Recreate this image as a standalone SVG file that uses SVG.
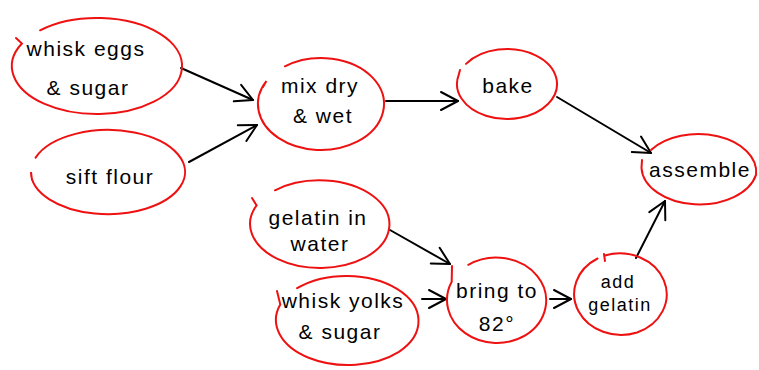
<svg xmlns="http://www.w3.org/2000/svg" width="759" height="370" viewBox="0 0 759 370">
<style>
.n{fill:none;stroke:#ee1111;stroke-width:2;stroke-linecap:round}
.t{font-family:"Liberation Sans","DejaVu Sans",sans-serif;font-size:21px;fill:#000;text-anchor:middle;letter-spacing:1.5px}
.s{font-size:18px}
.c{fill:none;stroke:#000;stroke-width:2;stroke-linecap:round}
</style>
<defs>
<marker id="ah" markerUnits="userSpaceOnUse" markerWidth="24" markerHeight="24" refX="20" refY="12" orient="auto" viewBox="0 0 24 24">
<path d="M3,3 L20,12 L3,21" fill="none" stroke="#000" stroke-width="2" stroke-linecap="round" stroke-linejoin="round"/>
</marker>
</defs>
<rect width="759" height="370" fill="#fff"/>
<g id="connectors">
<line class="c" x1="181" y1="68" x2="253" y2="100" marker-end="url(#ah)"/>
<line class="c" x1="189" y1="162" x2="257" y2="125" marker-end="url(#ah)"/>
<line class="c" x1="386" y1="101" x2="458" y2="101" marker-end="url(#ah)"/>
<line class="c" x1="557" y1="97" x2="651" y2="153" marker-end="url(#ah)"/>
<line class="c" x1="390" y1="230" x2="450" y2="264" marker-end="url(#ah)"/>
<line class="c" x1="422" y1="299" x2="446" y2="299" marker-end="url(#ah)"/>
<line class="c" x1="550" y1="299" x2="571" y2="299" marker-end="url(#ah)"/>
<line class="c" x1="636" y1="258" x2="665" y2="201" marker-end="url(#ah)"/>
</g>
<g id="whisk-eggs">
<path class="n" d="M40.1,30.3 A85,48 0 0 1 153.9,101.7 A85,48 0 0 1 21.9,43.5 L16,38"/>
<text class="t" x="86" y="56">whisk eggs</text>
<text class="t" x="88" y="95">&amp; sugar</text>
</g>
<g id="sift-flour">
<path class="n" d="M35.6,157.6 A77,42 0 0 1 180.4,186.4 A77,42 0 0 1 31,172 L32,180"/>
<text class="t" x="110" y="184">sift flour</text>
</g>
<g id="mix">
<path class="n" d="M284.9,66.3 A63,46 0 0 1 357.1,141.7 A63,46 0 0 1 266.4,81 L263,87"/>
<text class="t" x="320" y="93">mix dry</text>
<text class="t" x="323" y="123">&amp; wet</text>
</g>
<g id="bake">
<path class="n" d="M466,63.9 A50,35 0 0 1 548,104 A50,35 0 0 1 458.7,74.9 L460,70"/>
<text class="t" x="508" y="93">bake</text>
</g>
<g id="assemble">
<path class="n" d="M651,150 A58,38 0 0 1 756.1,174.6 A58,38 0 0 1 641.5,168 L642,160"/>
<text class="t" x="700" y="177">assemble</text>
</g>
<g id="gelatin-water">
<path class="n" d="M275,190.3 A70,44 0 0 1 365,257.7 A70,44 0 0 1 256.6,205.4 L252,198"/>
<text class="t" x="318" y="225">gelatin in</text>
<text class="t" x="320" y="251">water</text>
</g>
<g id="whisk-yolks">
<path class="n" d="M297.1,288.2 A72,45 0 0 1 398.9,351.8 A72,45 0 0 1 280.3,304.6 L277,291"/>
<text class="t" x="343" y="308">whisk yolks</text>
<text class="t" x="340" y="339">&amp; sugar</text>
</g>
<g id="bring">
<path class="n" d="M468.3,264.8 A50,43 0 0 1 525.7,335.2 A50,43 0 0 1 451.7,281.8 L452,266"/>
<text class="t" x="497" y="298">bring to</text>
<text class="t" x="497" y="331">82°</text>
</g>
<g id="add-gelatin">
<path class="n" d="M604.9,255.5 A47,41 0 0 1 637.1,332.5 A47,41 0 0 1 597.5,258.5 M604,254 L605,261"/>
<text class="t s" x="618" y="288">add</text>
<text class="t s" x="620" y="311">gelatin</text>
</g>
</svg>
